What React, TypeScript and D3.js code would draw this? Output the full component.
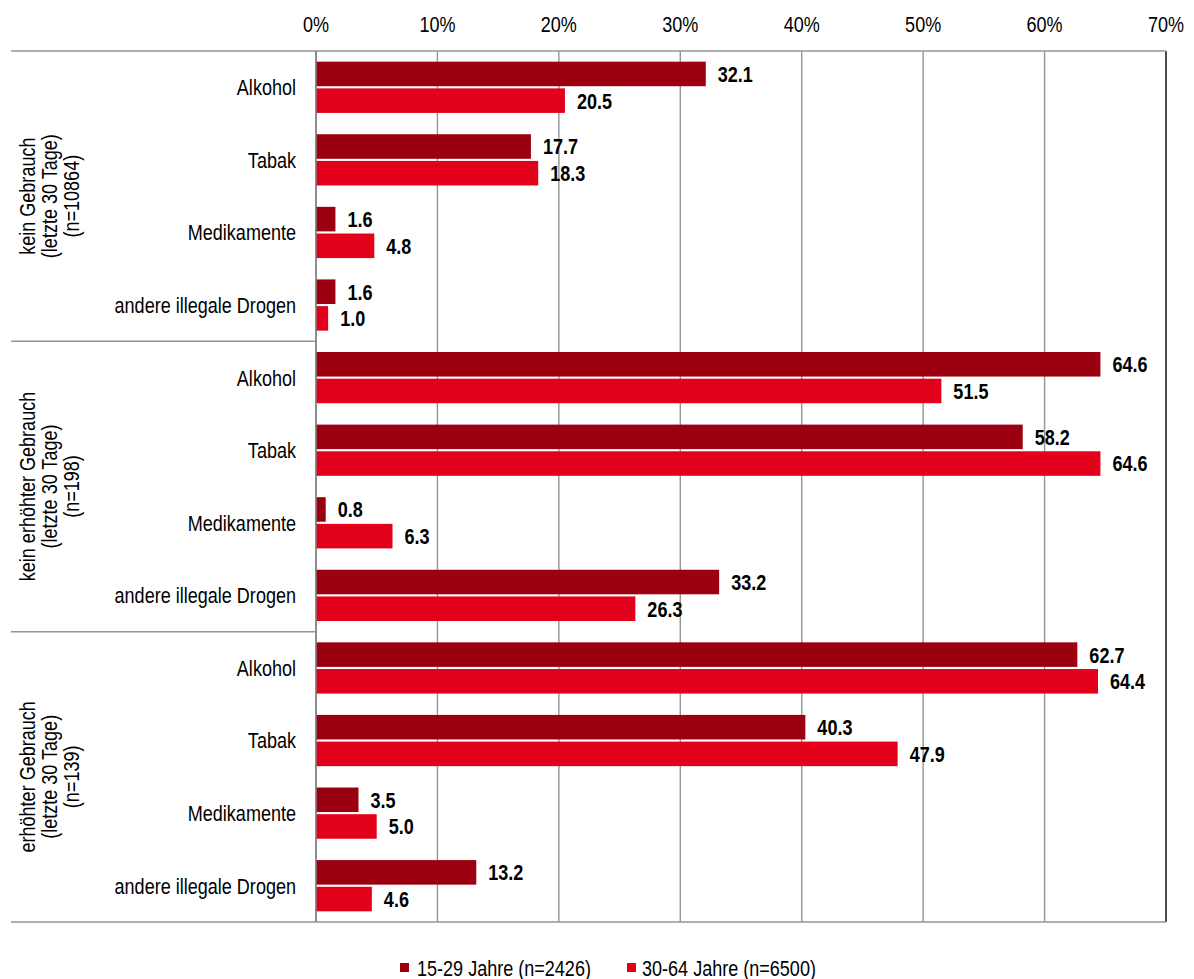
import React from "react";
import * as d3 from "d3";

const groups = [
  ["kein Gebrauch", "(letzte 30 Tage)", "(n=10864)"],
  ["kein erhöhter Gebrauch", "(letzte 30 Tage)", "(n=198)"],
  ["erhöhter Gebrauch", "(letzte 30 Tage)", "(n=139)"],
];
const substances = ["Alkohol", "Tabak", "Medikamente", "andere illegale Drogen"];
const young = [32.1, 17.7, 1.6, 1.6, 64.6, 58.2, 0.8, 33.2, 62.7, 40.3, 3.5, 13.2];
const old = [20.5, 18.3, 4.8, 1.0, 51.5, 64.6, 6.3, 26.3, 64.4, 47.9, 5.0, 4.6];
const seriesNames = ["15-29 Jahre (n=2426)", "30-64 Jahre (n=6500)"];
const ticks = [0, 10, 20, 30, 40, 50, 60, 70];

const W = 1194, H = 979;
const X0 = 316, X1 = 1166, Y0 = 51, Y1 = 922, LEFT = 11;
const DARK = "#9A000F";
const RED = "#E3001B";
const FONT = "'Liberation Sans', Arial, sans-serif";
const FS = 22;
const SX = 0.82;

function NText({ x, y, anchor = "start", bold = false, rotate = 0, children }: any) {
  return (
    <text
      transform={`translate(${x},${y}) rotate(${rotate}) scale(${SX},1)`}
      textAnchor={anchor}
      fontFamily={FONT}
      fontSize={FS}
      fontWeight={bold ? "bold" : "normal"}
      fill="#000"
    >
      {children}
    </text>
  );
}

export default function App() {
  const x = d3.scaleLinear().domain([0, 70]).range([X0, X1]);
  const rows = groups.flatMap((g, gi) => substances.map((s, si) => `${gi}-${si}`));
  const y = d3.scaleBand().domain(rows).range([Y0, Y1]);
  const inner = d3.scaleBand().domain(["a", "b"]).range([0, y.bandwidth()]).paddingInner(0.08).paddingOuter(0.4);
  const groupH = (Y1 - Y0) / groups.length;
  const base = FS * 0.36;

  return (
    <svg width={W} height={H} style={{ position: "absolute", left: 0, top: 0, background: "#fff" }}>
      {ticks.map((t) => (
        <g key={t}>
          <line x1={x(t)} x2={x(t)} y1={Y0} y2={Y1} stroke={t === 70 ? "#000" : "#949494"} strokeWidth={1.4} />
          <NText x={x(t)} y={32} anchor="middle">{t}%</NText>
        </g>
      ))}
      <line x1={LEFT} x2={X1} y1={Y0} y2={Y0} stroke="#949494" strokeWidth={1.5} />
      <line x1={LEFT} x2={X1} y1={Y1} y2={Y1} stroke="#949494" strokeWidth={1.5} />
      {groups.map((g, gi) =>
        gi > 0 ? (
          <line key={gi} x1={LEFT} x2={X0} y1={Y0 + gi * groupH} y2={Y0 + gi * groupH} stroke="#949494" strokeWidth={1.5} />
        ) : null
      )}
      {rows.map((r, i) => {
        const by = y(r)!;
        const ya = by + inner("a")!;
        const yb = by + inner("b")!;
        const bh = inner.bandwidth();
        return (
          <g key={r}>
            <rect x={x(0)} y={ya} width={x(young[i]) - x(0)} height={bh} fill={DARK} />
            <rect x={x(0)} y={yb} width={x(old[i]) - x(0)} height={bh} fill={RED} />
            <NText x={x(young[i]) + 12} y={ya + bh / 2 + base} bold>{young[i].toFixed(1)}</NText>
            <NText x={x(old[i]) + 12} y={yb + bh / 2 + base} bold>{old[i].toFixed(1)}</NText>
            <NText x={296} y={by + y.bandwidth() / 2 + base} anchor="end">{substances[i % 4]}</NText>
          </g>
        );
      })}
      <line x1={X0} x2={X0} y1={Y0} y2={Y1} stroke="#808080" strokeWidth={1.5} />
      {groups.map((g, gi) => {
        const cy = Y0 + gi * groupH + groupH / 2;
        return (
          <g key={gi}>
            {g.map((line, li) => (
              <NText key={li} x={49 + (li - 1) * 22 + base} y={cy} anchor="middle" rotate={-90}>{line}</NText>
            ))}
          </g>
        );
      })}
      <rect x={400} y={963} width={9} height={9} fill={DARK} />
      <NText x={417} y={968 + base}>{seriesNames[0]}</NText>
      <rect x={627} y={963} width={9} height={9} fill={RED} />
      <NText x={642} y={968 + base}>{seriesNames[1]}</NText>
    </svg>
  );
}
